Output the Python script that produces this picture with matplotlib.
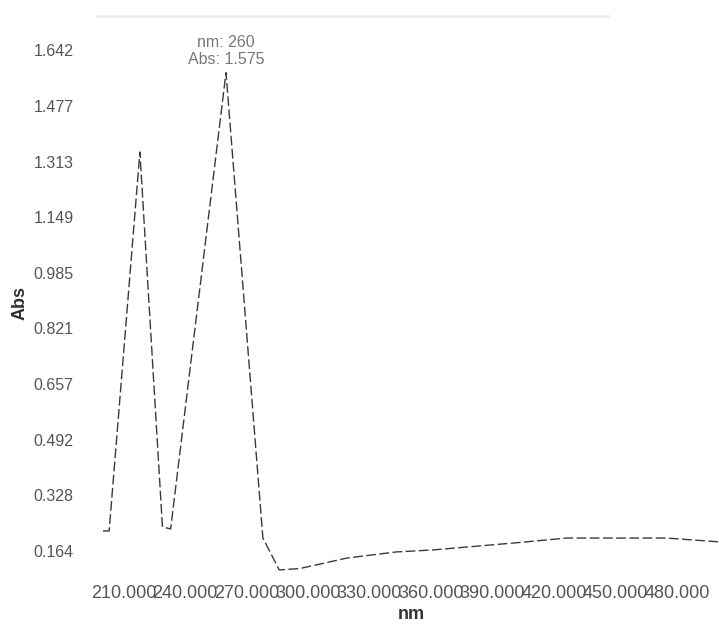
import matplotlib
matplotlib.use("Agg")
import matplotlib.pyplot as plt
from matplotlib.lines import Line2D

# spectrum
wavelength = [200, 203, 218, 229, 233, 260, 278, 286, 296, 319, 343, 361, 390, 407, 426, 475, 500]
absorbance = [0.223, 0.223, 1.341, 0.235, 0.229, 1.575, 0.202, 0.108, 0.112, 0.143, 0.161, 0.167,
              0.182, 0.191, 0.202, 0.202, 0.191]

x_ticks = [210, 240, 270, 300, 330, 360, 390, 420, 450, 480]
y_ticks = [0.164, 0.328, 0.492, 0.657, 0.821, 0.985, 1.149, 1.313, 1.477, 1.642]

peak_nm = 260
peak_abs = 1.575

plt.rcParams['font.family'] = ['Liberation Sans', 'DejaVu Sans']

fig = plt.figure(figsize=(7.19, 6.25), dpi=100)
ax = fig.add_axes([103 / 719, 50 / 625, 616 / 719, 545 / 625])

ax.plot(wavelength, absorbance, color='#3a3a3a', linewidth=1.0, linestyle=(0, (7, 2.5)))

ax.set_xlim(200, 500.5)
ax.set_ylim(0.093, 1.701)

ax.set_xticks(x_ticks)
ax.set_xticklabels(['%.3f' % v for v in x_ticks], fontsize=13, color='#555555')
ax.set_yticks(y_ticks)
ax.set_yticklabels(['%.3f' % v for v in y_ticks], fontsize=11.5, color='#555555')
ax.tick_params(axis='both', length=0)
ax.tick_params(axis='y', pad=21)
ax.tick_params(axis='x', pad=7)

for s in ax.spines.values():
    s.set_visible(False)

ax.set_xlabel('nm', fontsize=13, fontweight='bold', color='#333333', labelpad=3)
ax.set_ylabel('Abs', fontsize=13, fontweight='bold', color='#333333', labelpad=4)

ax.annotate('nm: %d\nAbs: %.3f' % (peak_nm, peak_abs), xy=(peak_nm, peak_abs),
            xytext=(0, 4), textcoords='offset points', ha='center', va='bottom',
            fontsize=11.5, color='#777777', linespacing=1.15)

# faint bar at the top of the screenshot
fig.add_artist(Line2D([97 / 719, 608 / 719], [1 - 16 / 625, 1 - 16 / 625],
                      color='#eeeeee', linewidth=2.0))

fig.savefig('out.png', dpi=100, facecolor='white')
